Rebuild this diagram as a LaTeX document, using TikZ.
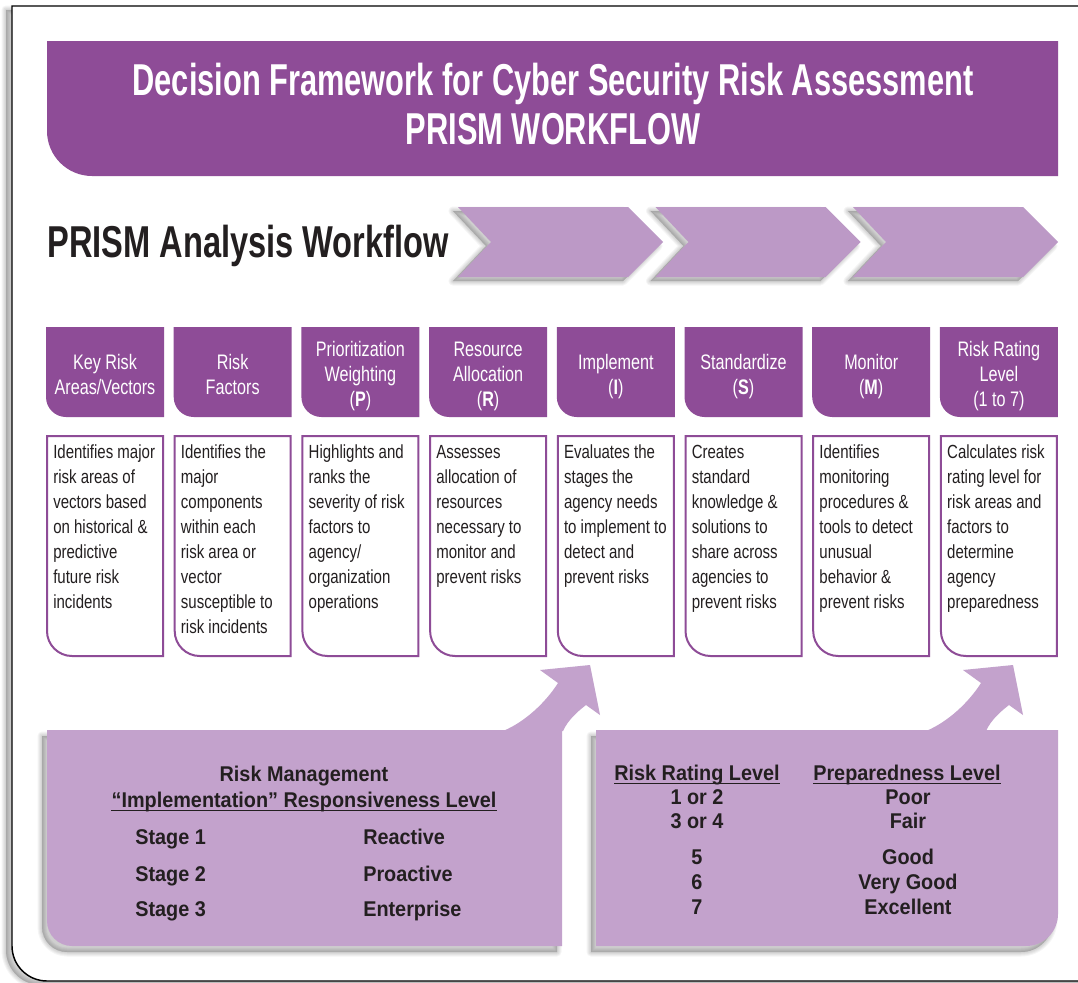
\documentclass[tikz,border=0pt]{standalone}
\usepackage{fontspec}
\setmainfont{Liberation Sans}
\newfontfamily\ttlfont{Liberation Sans}[FakeStretch=0.69]
\newfontfamily\wffont{Liberation Sans}[FakeStretch=0.73]
\newfontfamily\hdrfont{Liberation Sans}[FakeStretch=0.77]
\newfontfamily\dscfont{Liberation Sans}[FakeStretch=0.79]
\newfontfamily\pnlfont{Liberation Sans}[FakeStretch=0.93]
\definecolor{dkpurple}{HTML}{8E4C97}
\definecolor{chevcol}{HTML}{BC99C6}
\definecolor{panelcol}{HTML}{C3A2CC}
\definecolor{ink}{HTML}{231F20}
\newcommand\softshadow[2]{%
  \foreach \w in {9,7,5,3,1}{%
    \path[fill=black,draw=black,opacity=0.04,line width=\w*0.75pt,line join=round,shift={#1}] #2;}}
\newcommand\hst{\rule[-0.25em]{0pt}{0.98em}}
\newcommand\fst{\rule{0pt}{0.75em}}
\tikzset{
  hdrbox/.style={minimum width=88.5pt, minimum height=67.5pt, inner sep=0pt, outer sep=0pt,
    path picture={\fill[dkpurple] (path picture bounding box.north west) -- (path picture bounding box.north east) -- (path picture bounding box.south east) -- ([xshift=15pt]path picture bounding box.south west) .. controls ([xshift=6.7pt]path picture bounding box.south west) and ([yshift=6.7pt]path picture bounding box.south west) .. ([yshift=15pt]path picture bounding box.south west) -- cycle;}},
  hdrtext/.style={inner sep=0pt, align=center, text=white, font=\hdrfont\fontsize{15.75}{18.75}\selectfont},
  dscbox/.style={minimum width=88.5pt, minimum height=166.5pt, inner sep=0pt, outer sep=0pt,
    path picture={\draw[dkpurple, line width=1.5pt, line join=miter] ([shift={(0.75pt,-0.75pt)}]path picture bounding box.north west) -- ([shift={(-0.75pt,-0.75pt)}]path picture bounding box.north east) -- ([shift={(-0.75pt,0.75pt)}]path picture bounding box.south east) -- ([shift={(19.5pt,0.75pt)}]path picture bounding box.south west) .. controls ([shift={(9.15pt,0.75pt)}]path picture bounding box.south west) and ([shift={(0.75pt,9.15pt)}]path picture bounding box.south west) .. ([shift={(0.75pt,19.5pt)}]path picture bounding box.south west) -- cycle;}},
  dsctext/.style={anchor=north west, inner sep=0pt, align=left, text=ink, font=\dscfont\fontsize{14.25}{18.75}\selectfont},
  ttl/.style={anchor=base, inner sep=0pt, text=white, font=\ttlfont\bfseries\fontsize{33.5}{36}\selectfont},
  pnl/.style={anchor=base, inner sep=0pt, text=ink, font=\pnlfont\bfseries\fontsize{16}{19}\selectfont},
  pnlw/.style={pnl, anchor=base west},
  uline/.style={ink, line width=1.1pt}
}
\begin{document}
\begin{tikzpicture}[x=0.75pt,y=-0.75pt]
\useasboundingbox (0,0) rectangle (1078,982);
\clip (0,0) rectangle (1078,982);
\fill[white] (0,0) rectangle (1078,982);
% outer frame
\softshadow{(-6,4)}{(1100,6) -- (12,6) -- (12,946) .. controls (12,965.3) and (27.7,981) .. (47,981) -- (1100,981) -- cycle}
\fill[white] (1100,6) -- (12,6) -- (12,946) .. controls (12,965.3) and (27.7,981) .. (47,981) -- (1100,981) -- cycle;
\draw[black, line width=1.1pt] (1100,6) -- (12,6) -- (12,946) .. controls (12,965.3) and (27.7,981) .. (47,981) -- (1100,981);
% title banner
\fill[dkpurple] (47,41) -- (1058,41) -- (1058,176) -- (92,176) .. controls (67.2,176) and (47,155.8) .. (47,131) -- cycle;
\node[ttl] (title1) at (553,95) {Decision Framework for Cyber Security Risk Assessment};
\node[ttl] (title2) at (553,144) {PRISM WORKFLOW};
% workflow heading
\node[anchor=base west, inner sep=0pt, text=ink, font=\wffont\bfseries\fontsize{33.5}{36}\selectfont] (wf) at (47,257) {PRISM Analysis Workflow};
% chevrons
\foreach \x in {458,655.5,853}{
  \softshadow{(-5,4)}{(\x,207) -- ++(170,0) -- ++(35,35) -- ++(-35,35) -- ++(-170,0) -- ++(33,-35) -- cycle}
  \fill[chevcol] (\x,207) -- ++(170,0) -- ++(35,35) -- ++(-35,35) -- ++(-170,0) -- ++(33,-35) -- cycle;
}
% header boxes
\node[hdrbox] (h1) at (105,372) {};
\node[hdrbox] (h2) at (232.7,372) {};
\node[hdrbox] (h3) at (360.4,372) {};
\node[hdrbox] (h4) at (488.1,372) {};
\node[hdrbox] (h5) at (615.8,372) {};
\node[hdrbox] (h6) at (743.5,372) {};
\node[hdrbox] (h7) at (871.2,372) {};
\node[hdrbox] (h8) at (998.9,372) {};
\node[hdrtext] (ht1) at ([yshift=-3.4pt]h1.center) {Key Risk\hst\\Areas/Vectors\hst};
\node[hdrtext] (ht2) at ([yshift=-3.4pt]h2.center) {Risk\hst\\Factors\hst};
\node[hdrtext] (ht3) at ([yshift=-3.4pt]h3.center) {Prioritization\hst\\Weighting\hst\\(\textbf{P})\hst};
\node[hdrtext] (ht4) at ([yshift=-3.4pt]h4.center) {Resource\hst\\Allocation\hst\\(\textbf{R})\hst};
\node[hdrtext] (ht5) at ([yshift=-3.4pt]h5.center) {Implement\hst\\(\textbf{I})\hst};
\node[hdrtext] (ht6) at ([yshift=-3.4pt]h6.center) {Standardize\hst\\(\textbf{S})\hst};
\node[hdrtext] (ht7) at ([yshift=-3.4pt]h7.center) {Monitor\hst\\(\textbf{M})\hst};
\node[hdrtext] (ht8) at ([yshift=-3.4pt]h8.center) {Risk Rating\hst\\Level\hst\\(1 to 7)\hst};
% description boxes
\node[dscbox] (d1) at (105,546) {};
\node[dscbox] (d2) at (232.7,546) {};
\node[dscbox] (d3) at (360.4,546) {};
\node[dscbox] (d4) at (488.1,546) {};
\node[dscbox] (d5) at (615.8,546) {};
\node[dscbox] (d6) at (743.5,546) {};
\node[dscbox] (d7) at (871.2,546) {};
\node[dscbox] (d8) at (998.9,546) {};
\node[dsctext] (dt1) at ([shift={(5.25pt,-7.1pt)}]d1.north west) {\fst Identifies major\\risk areas of\\vectors based\\on historical \&\\predictive\\future risk\\incidents};
\node[dsctext] (dt2) at ([shift={(5.25pt,-7.1pt)}]d2.north west) {\fst Identifies the\\major\\components\\within each\\risk area or\\vector\\susceptible to\\risk incidents};
\node[dsctext] (dt3) at ([shift={(5.25pt,-7.1pt)}]d3.north west) {\fst Highlights and\\ranks the\\severity of risk\\factors to\\agency/\\organization\\operations};
\node[dsctext] (dt4) at ([shift={(5.25pt,-7.1pt)}]d4.north west) {\fst Assesses\\allocation of\\resources\\necessary to\\monitor and\\prevent risks};
\node[dsctext] (dt5) at ([shift={(5.25pt,-7.1pt)}]d5.north west) {\fst Evaluates the\\stages the\\agency needs\\to implement to\\detect and\\prevent risks};
\node[dsctext] (dt6) at ([shift={(5.25pt,-7.1pt)}]d6.north west) {\fst Creates\\standard\\knowledge \&\\solutions to\\share across\\agencies to\\prevent risks};
\node[dsctext] (dt7) at ([shift={(5.25pt,-7.1pt)}]d7.north west) {\fst Identifies\\monitoring\\procedures \&\\tools to detect\\unusual\\behavior \&\\prevent risks};
\node[dsctext] (dt8) at ([shift={(5.25pt,-7.1pt)}]d8.north west) {\fst Calculates risk\\rating level for\\risk areas and\\factors to\\determine\\agency\\preparedness};
% bottom panels
\softshadow{(-5,6)}{(47,730) -- (562,730) -- (562,946) -- (72,946) .. controls (58.2,946) and (47,934.8) .. (47,921) -- cycle}
\softshadow{(-5,6)}{(596,730) -- (1058,730) -- (1058,914) .. controls (1058,931.7) and (1043.7,946) .. (1026,946) -- (596,946) -- cycle}
\fill[panelcol] (47,730) -- (562,730) -- (562,946) -- (72,946) .. controls (58.2,946) and (47,934.8) .. (47,921) -- cycle;
\fill[panelcol] (596,730) -- (1058,730) -- (1058,914) .. controls (1058,931.7) and (1043.7,946) .. (1026,946) -- (596,946) -- cycle;
% curved arrows
\fill[panelcol] (503,731) .. controls (525,722) and (546,702) .. (558,683) -- (540,670) -- (590,665) -- (600,715) -- (586,705) .. controls (577,712) and (568,720) .. (563,731) -- cycle;
\fill[panelcol] (926,731) .. controls (948,722) and (969,702) .. (981,683) -- (963,670) -- (1013,665) -- (1023,715) -- (1009,705) .. controls (1000,712) and (991,720) .. (986,731) -- cycle;
% left panel text
\node[pnl] (rm1) at (304,781.6) {Risk Management};
\node[pnl] (rm2) at (304,807.6) {“Implementation” Responsiveness Level};
\draw[uline] ([yshift=-2pt]rm2.base west) -- ([yshift=-2pt]rm2.base east);
\node[pnlw] (s1) at (135,844.6) {Stage 1};
\node[pnlw] (s2) at (135,881.6) {Stage 2};
\node[pnlw] (s3) at (135,916.6) {Stage 3};
\node[pnlw] (r1) at (363,844.6) {Reactive};
\node[pnlw] (r2) at (363,881.6) {Proactive};
\node[pnlw] (r3) at (363,916.6) {Enterprise};
% right panel text
\node[pnl] (rrl) at (697,780.6) {Risk Rating Level};
\node[pnl] (prl) at (907,780.6) {Preparedness Level};
\draw[uline] ([yshift=-2pt]rrl.base west) -- ([yshift=-2pt]rrl.base east);
\draw[uline] ([yshift=-2pt]prl.base west) -- ([yshift=-2pt]prl.base east);
\node[pnl] (l1) at (697,804.6) {1 or 2};
\node[pnl] (l2) at (697,828.6) {3 or 4};
\node[pnl] (l3) at (697,864.6) {5};
\node[pnl] (l4) at (697,889.6) {6};
\node[pnl] (l5) at (697,914.6) {7};
\node[pnl] (p1) at (908,804.6) {Poor};
\node[pnl] (p2) at (908,828.6) {Fair};
\node[pnl] (p3) at (908,864.6) {Good};
\node[pnl] (p4) at (908,889.6) {Very Good};
\node[pnl] (p5) at (908,914.6) {Excellent};
\end{tikzpicture}
\end{document}
